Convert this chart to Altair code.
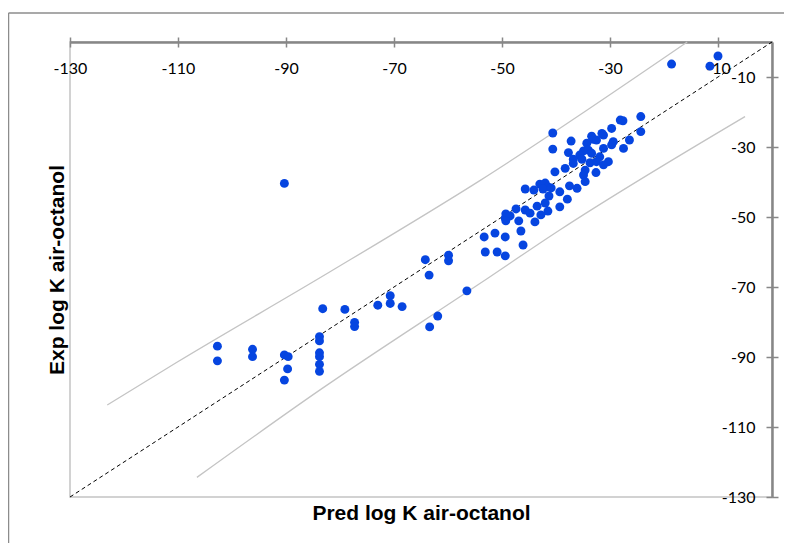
import altair as alt
import pandas as pd

# Observed points: predicted (x) and experimental (y) log K air-octanol
pred = [-90.3, -102.7, -102.7, -96.2, -96.2, -90.3, -89.6, -89.7, -90.3,
        -83.2, -83.8, -83.8, -83.8, -83.8, -83.8, -83.8, -79.1, -77.3, -77.3,
        -73.0, -70.7, -70.7, -68.5, -64.2, -63.5, -63.4, -61.9, -59.9, -59.9, -56.5,
        -10.0, -11.5, -18.6,
        -24.3, -28.1, -27.6, -24.3, -26.4, -27.5, -29.7, -31.5, -31.2, -33.4, -33.1,
        -32.5, -37.2, -34.3, -29.4, -29.7, -31.2, -34.9, -34.0, -37.7, -35.6, -33.4,
        -31.9, -36.8, -35.2, -30.3, -33.7, -32.5, -31.2, -38.3, -36.8, -34.6, -32.6,
        -34.9, -34.6, -37.5, -36.1, -39.3, -37.9, -39.3, -40.6, -40.6,
        -40.2, -43.0, -42.0, -41.5, -42.4, -40.9, -45.7, -44.1, -41.3, -42.0, -43.5,
        -41.5, -42.8, -45.7, -49.3, -49.4, -48.5, -49.3, -46.9, -44.8, -43.9, -46.5,
        -46.1, -51.3, -53.3, -53.1, -50.9, -49.4, -49.4, -47.4]
exp = [-40.4, -86.9, -91.1, -87.8, -89.9, -89.4, -89.9, -93.4, -96.6,
       -76.2, -84.2, -85.4, -88.8, -89.9, -92.1, -94.1, -76.4, -80.1, -81.3,
       -75.2, -72.5, -74.7, -75.6, -62.2, -66.6, -81.4, -78.3, -60.9, -62.5, -71.1,
       -4.0, -6.9, -6.3,
       -21.3, -22.3, -22.5, -25.6, -28.0, -30.4, -24.7, -26.1, -26.6, -26.9, -27.8,
       -28.0, -28.3, -28.9, -28.5, -29.4, -30.4, -31.1, -30.9, -31.6, -32.3, -31.8,
       -32.8, -33.5, -33.5, -34.2, -34.5, -34.2, -35.1, -36.1, -34.7, -36.6, -37.3,
       -38.0, -39.9, -41.1, -41.8, -42.8, -44.9, -47.1, -26.0, -30.6,
       -37.1, -40.6, -40.3, -41.4, -42.0, -41.7, -42.0, -42.3, -44.0, -46.0, -46.9,
       -48.3, -49.4, -48.0, -49.1, -50.3, -49.7, -51.1, -51.1, -48.9, -51.4, -54.0,
       -58.0, -54.6, -55.7, -60.0, -60.0, -61.1, -55.7, -47.7]

# Prediction band curves
upper_x = [-123.1, -110.2, -82.0, -54.1, -15.7]
upper_y = [-103.7, -91.5, -65.8, -39.6, 0.0]
lower_x = [-106.5, -83.7, -54.1, -39.3, -5.0]
lower_y = [-124.4, -99.4, -69.0, -53.7, -21.3]

# 1:1 line
diag = [-130, 0]

tick_vals = [-130, -110, -90, -70, -50, -30, -10]

W, H = 702, 455
AXC = "#878787"
FONT = "Lato"
TFONT = "Liberation Sans"
LBL = "toString(datum.value)"

xs = alt.Scale(domain=[-130, 0], nice=False, zero=False)
ys = alt.Scale(domain=[-130, 0], nice=False, zero=False)

pts_df = pd.DataFrame({"pred": pred, "exp": exp})
up_df = pd.DataFrame({"pred": upper_x, "exp": upper_y})
lo_df = pd.DataFrame({"pred": lower_x, "exp": lower_y})
dg_df = pd.DataFrame({"pred": diag, "exp": diag})

# axes
x_labels = alt.Axis(orient="bottom", offset=-H, values=tick_vals, title=None, grid=False,
                    domain=True, domainColor=AXC, domainWidth=2, ticks=True, tickSize=5,
                    tickColor=AXC, tickWidth=1.5, labelFontSize=16, labelFont=FONT,
                    labelColor="#000000", labelPadding=13, labelFlush=False, labelExpr=LBL)
x_topticks = alt.Axis(orient="top", values=tick_vals, title=None, grid=False, labels=False,
                      domain=True, domainColor=AXC, domainWidth=2, ticks=True, tickSize=5,
                      tickColor=AXC, tickWidth=1.5)
x_title = alt.Axis(orient="bottom", title="Pred log K air-octanol", grid=False, labels=False,
                   domain=False, ticks=False, titleFontSize=21, titleFont=TFONT,
                   titleFontWeight="bold", titleColor="#000000", titlePadding=5)
y_labels = alt.Axis(orient="left", offset=-W, values=tick_vals, title=None, grid=False,
                    domain=True, domainColor=AXC, domainWidth=2, ticks=True, tickSize=6,
                    tickColor=AXC, tickWidth=1.5, labelFontSize=16, labelFont=FONT,
                    labelColor="#000000", labelPadding=11, labelFlush=False, labelExpr=LBL)
y_rightticks = alt.Axis(orient="right", values=tick_vals, title=None, grid=False, labels=False,
                        domain=True, domainColor=AXC, domainWidth=2, ticks=True, tickSize=6,
                        tickColor=AXC, tickWidth=1.5)
y_title = alt.Axis(orient="left", title="Exp log K air-octanol", grid=False, labels=False,
                   domain=False, ticks=False, titleFontSize=21, titleFont=TFONT,
                   titleFontWeight="bold", titleColor="#000000", titlePadding=3)

upper = alt.Chart(up_df).mark_line(color="#c4c4c4", strokeWidth=1.3, interpolate="monotone").encode(
    x=alt.X("pred:Q", scale=xs, axis=x_topticks),
    y=alt.Y("exp:Q", scale=ys, axis=y_rightticks),
)
lower = alt.Chart(lo_df).mark_line(color="#c4c4c4", strokeWidth=1.3, interpolate="monotone").encode(
    x=alt.X("pred:Q", scale=xs, axis=x_title),
    y=alt.Y("exp:Q", scale=ys, axis=y_title),
)
diag_line = alt.Chart(dg_df).mark_line(color="#000000", strokeWidth=1, strokeDash=[4, 3]).encode(
    x=alt.X("pred:Q", scale=xs, axis=None),
    y=alt.Y("exp:Q", scale=ys, axis=None),
)
points = alt.Chart(pts_df).mark_circle(size=80, color="#0645E0", opacity=1).encode(
    x=alt.X("pred:Q", scale=xs, axis=x_labels),
    y=alt.Y("exp:Q", scale=ys, axis=y_labels),
)

one = alt.Data(values=[{"k": 1}])
border_left = alt.Chart(one).mark_rule(color="#8c8c8c", strokeWidth=1.5).encode(
    x=alt.value(-61.5), y=alt.value(-29), y2=alt.value(H + 50))
border_top = alt.Chart(one).mark_rule(color="#8c8c8c", strokeWidth=1.5).encode(
    x=alt.value(-61.5), x2=alt.value(W + 20), y=alt.value(-29))

chart = alt.layer(border_left, border_top, upper, lower, diag_line, points).resolve_axis(
    x="independent", y="independent"
).properties(
    width=W, height=H,
    autosize=alt.AutoSizeParams(type="none"),
    padding={"left": 62, "top": 34, "right": 12, "bottom": 46},
    background="#ffffff",
).configure_view(stroke="#c4c4c4", strokeWidth=1.5)

chart.save("out.html", embed_options={"renderer": "svg", "actions": False})
